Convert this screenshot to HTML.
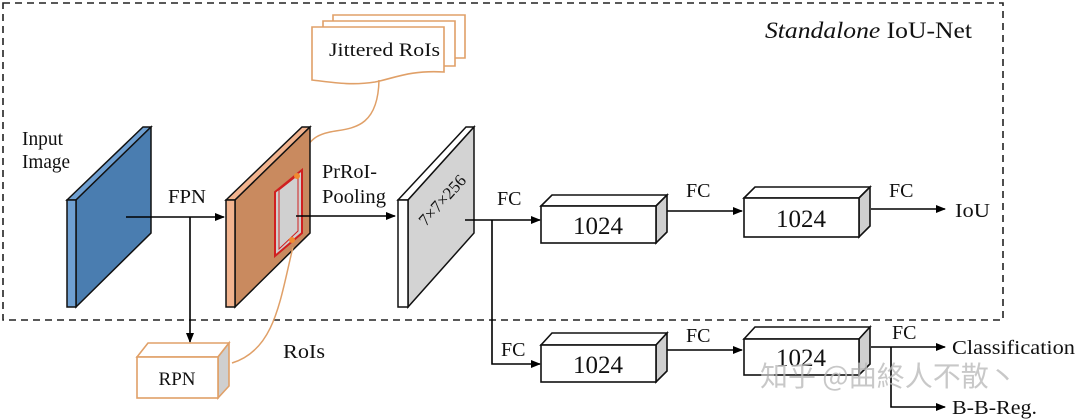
<!DOCTYPE html>
<html><head><meta charset="utf-8"><style>
body{margin:0;background:#fff}
svg{display:block}
text{font-family:"Liberation Serif",serif;fill:#111}
</style></head><body>
<svg width="1080" height="420" viewBox="0 0 1080 420" xmlns="http://www.w3.org/2000/svg">
<defs>
<marker id="a" markerWidth="10" markerHeight="8" refX="9" refY="4" orient="auto" markerUnits="userSpaceOnUse">
<path d="M0,0 L10,4 L0,8 Z" fill="#000"/></marker>
</defs>
<rect x="3" y="3" width="1000" height="317" fill="none" stroke="#222" stroke-width="1.6" stroke-dasharray="7,5"/>
<text x="765" y="38" font-size="23" textLength="207" lengthAdjust="spacingAndGlyphs"><tspan font-style="italic">Standalone</tspan> IoU-Net</text>

<!-- Jittered docs -->
<g fill="#fff" stroke="#e0a068" stroke-width="1.6">
<path d="M333,15 H465 V58 H333 Z"/>
<path d="M323,21 H455 V66 H323 Z"/>
<path d="M312,27 H444 V72 C410,70 395,78 375,82 C350,86 330,82 312,80 Z"/>
</g>
<text x="329" y="56" font-size="19" textLength="111" lengthAdjust="spacingAndGlyphs">Jittered RoIs</text>
<path d="M379,80 C378,130 350,128 330,132 C312,136 312,142 306,146" fill="none" stroke="#e0a068" stroke-width="1.5"/>

<!-- blue slab -->
<polygon points="67,200 143,127 151,127 76,200" fill="#6fa0d2" stroke="#111" stroke-width="1.5"/>
<polygon points="76,200 151,127 151,233 76,307" fill="#4a7db0" stroke="#111" stroke-width="1.5"/>
<polygon points="67,200 76,200 76,307 67,307" fill="#6fa0d2" stroke="#111" stroke-width="1.5"/>
<text x="22" y="145" font-size="20" textLength="41" lengthAdjust="spacingAndGlyphs">Input</text>
<text x="22" y="168" font-size="20" textLength="48" lengthAdjust="spacingAndGlyphs">Image</text>

<!-- orange slab -->
<polygon points="226,200 302,127 310,127 235,200" fill="#f2b48f" stroke="#111" stroke-width="1.5"/>
<polygon points="235,200 310,127 310,233 235,307" fill="#c98a5f" stroke="#111" stroke-width="1.5"/>
<polygon points="226,200 235,200 235,307 226,307" fill="#f2b48f" stroke="#111" stroke-width="1.5"/>
<polygon points="275,192 302,170 302,233 275,256" fill="#d0d0d0" stroke="#d02020" stroke-width="2"/>
<polygon points="279,190 298,175 298,231 279,249" fill="none" stroke="#d02020" stroke-width="1"/>
<circle cx="297" cy="176" r="3" fill="#f08a30"/>
<circle cx="292" cy="240" r="3" fill="#f08a30"/>
<path d="M293,247 C280,300 275,350 232,363" fill="none" stroke="#e0a068" stroke-width="1.5"/>

<!-- gray slab -->
<polygon points="398,200 466,127 474,127 408,200" fill="#fff" stroke="#111" stroke-width="1.5"/>
<polygon points="408,200 474,127 474,233 408,307" fill="#d3d3d3" stroke="#111" stroke-width="1.5"/>
<polygon points="398,200 408,200 408,307 398,307" fill="#fff" stroke="#111" stroke-width="1.5"/>
<text x="442" y="206" font-size="17" text-anchor="middle" transform="rotate(-48 442 200)">7×7×256</text>

<!-- arrows -->
<g stroke="#000" stroke-width="1.6" fill="none">
<line x1="126" y1="217" x2="224" y2="217" marker-end="url(#a)"/>
<line x1="190" y1="217" x2="190" y2="342" marker-end="url(#a)"/>
<line x1="296" y1="216" x2="395" y2="216" marker-end="url(#a)"/>
<line x1="465" y1="220" x2="540" y2="220" marker-end="url(#a)"/>
<polyline points="492,220 492,364 540,364" marker-end="url(#a)"/>
<line x1="667" y1="211" x2="742" y2="211" marker-end="url(#a)"/>
<line x1="667" y1="350" x2="742" y2="350" marker-end="url(#a)"/>
<line x1="871" y1="209" x2="945" y2="209" marker-end="url(#a)"/>
<line x1="871" y1="347" x2="945" y2="347" marker-end="url(#a)"/>
<polyline points="891,347 891,407 945,407" marker-end="url(#a)"/>
</g>
<text x="168" y="203" font-size="20" textLength="38" lengthAdjust="spacingAndGlyphs">FPN</text>
<text x="322" y="178" font-size="20" textLength="55" lengthAdjust="spacingAndGlyphs">PrRoI-</text>
<text x="322" y="203" font-size="20" textLength="64" lengthAdjust="spacingAndGlyphs">Pooling</text>
<text x="283" y="358" font-size="20" textLength="42" lengthAdjust="spacingAndGlyphs">RoIs</text>

<!-- RPN -->
<polygon points="137,357 148,343 229,343 218,357" fill="#fff" stroke="#e0a068" stroke-width="1.6"/>
<polygon points="218,357 229,343 229,386 218,398" fill="#cfcfcf" stroke="#e0a068" stroke-width="1.6"/>
<rect x="137" y="357" width="81" height="41" fill="#fff" stroke="#e0a068" stroke-width="1.6"/>
<text x="177" y="385" font-size="19" text-anchor="middle">RPN</text>

<!-- 1024 boxes -->
<g stroke="#111" stroke-width="1.6">
<polygon points="541,206 552,195 667,195 656,206" fill="#fff"/>
<polygon points="656,206 667,195 667,232 656,243" fill="#cfcfcf"/>
<rect x="541" y="206" width="115" height="37" fill="#fff"/>
<polygon points="744,198 755,187 870,187 859,198" fill="#fff"/>
<polygon points="859,198 870,187 870,226 859,237" fill="#cfcfcf"/>
<rect x="744" y="198" width="115" height="39" fill="#fff"/>
<polygon points="541,345 552,333 667,333 656,345" fill="#fff"/>
<polygon points="656,345 667,333 667,371 656,382" fill="#cfcfcf"/>
<rect x="541" y="345" width="115" height="37" fill="#fff"/>
<polygon points="744,339 755,327 870,327 859,339" fill="#fff"/>
<polygon points="859,339 870,327 870,364 859,375" fill="#cfcfcf"/>
<rect x="744" y="339" width="115" height="36" fill="#fff"/>
</g>
<g font-size="25" text-anchor="middle">
<text x="598" y="234">1024</text>
<text x="801" y="227">1024</text>
<text x="598" y="373">1024</text>
<text x="801" y="366">1024</text>
</g>
<g font-size="20">
<text x="497" y="205">FC</text>
<text x="686" y="197">FC</text>
<text x="889" y="197">FC</text>
<text x="501" y="356">FC</text>
<text x="686" y="342">FC</text>
<text x="892" y="339">FC</text>
<text x="955" y="217" textLength="35" lengthAdjust="spacingAndGlyphs">IoU</text>
<text x="952" y="354" textLength="123" lengthAdjust="spacingAndGlyphs">Classification</text>
<text x="952" y="414" textLength="85" lengthAdjust="spacingAndGlyphs">B-B-Reg.</text>
</g>
<text x="760" y="386" font-size="28" style="font-family:'Noto Sans CJK SC',sans-serif;fill:#bbb;opacity:0.8">知乎 @曲終人不散丶</text>
</svg>
</body></html>
